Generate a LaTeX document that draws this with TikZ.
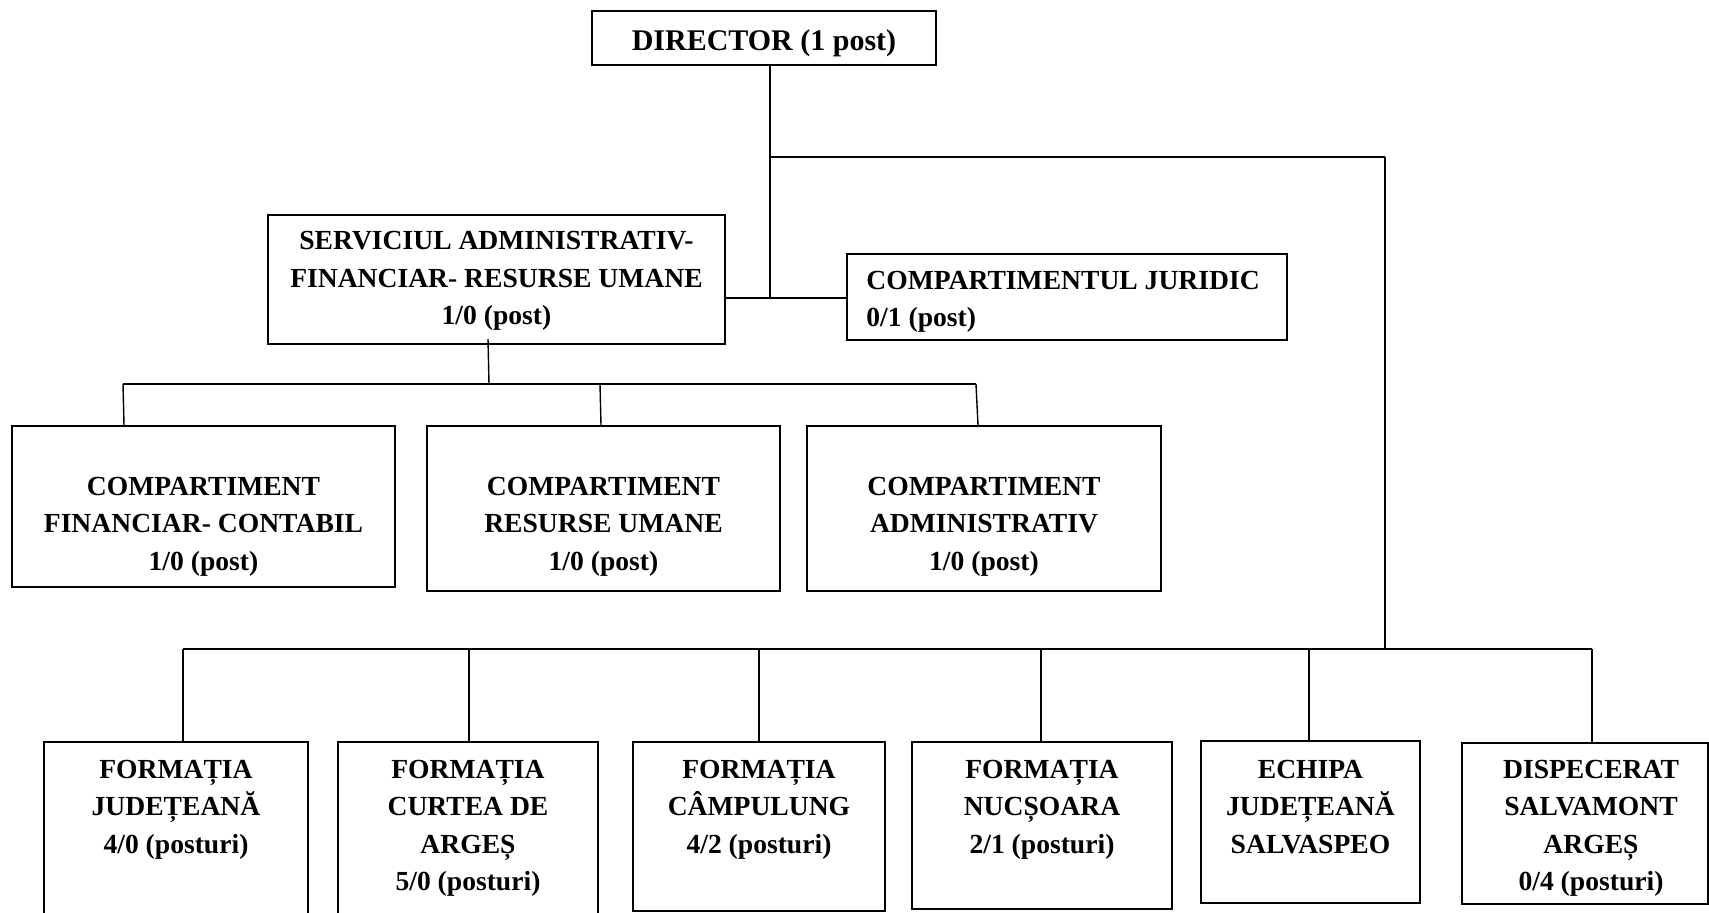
\documentclass[tikz,border=0pt]{standalone}
\usepackage{fontspec}
\setmainfont{Liberation Serif}
\usetikzlibrary{fit}
\newcommand{\fl}{\rule{0pt}{12.5pt}}
\tikzset{
  box/.style={draw, line width=1pt, inner sep=0pt},
  lbl/.style={font=\fontsize{13.8}{18.75}\selectfont\bfseries, align=center, inner sep=0pt, anchor=north},
  conn/.style={line width=0.7pt},
  bus/.style={line width=1pt},
}
\begin{document}
\begin{tikzpicture}[x=0.5pt,y=-0.5pt]
\clip (0,0) rectangle (1709,913);
\fill[white] (0,0) rectangle (1709,913);
% boxes
\node[box, fit={(592,11) (936,65)}] (d) {};
\node[box, fit={(268,215) (725,344)}] (s) {};
\node[box, fit={(847,254) (1287,340)}] (j) {};
\node[box, fit={(12,426) (395,587)}] (c1) {};
\node[box, fit={(427,426) (780,591)}] (c2) {};
\node[box, fit={(807,426) (1161,591)}] (c3) {};
\node[box, fit={(44,742) (308,940)}] (b1) {};
\node[box, fit={(338,742) (598,940)}] (b2) {};
\node[box, fit={(633,742) (885,911)}] (b3) {};
\node[box, fit={(912,742) (1172,909)}] (b4) {};
\node[box, fit={(1201,741) (1420,903)}] (b5) {};
\node[box, fit={(1462,743) (1707.5,904)}] (b6) {};
% texts
\node[font=\fontsize{15}{18}\selectfont\bfseries, inner sep=0pt, anchor=base] (dt) at (764,51) {DIRECTOR (1 post)};
\node[lbl] (st) at (496.5,224.5) {\fl SERVICIUL ADMINISTRATIV-\\FINANCIAR- RESURSE UMANE\\1/0 (post)};
\node[lbl, anchor=north west, align=left] (jt) at (866,264) {\fl COMPARTIMENTUL JURIDIC\\0/1 (post)};
\node[lbl] (c1t) at (203.5,470) {\fl COMPARTIMENT\\FINANCIAR- CONTABIL\\1/0 (post)};
\node[lbl] (c2t) at (603.5,470) {\fl COMPARTIMENT\\RESURSE UMANE\\1/0 (post)};
\node[lbl] (c3t) at (984,470) {\fl COMPARTIMENT\\ADMINISTRATIV\\1/0 (post)};
\node[lbl] (b1t) at (176,753) {\fl FORMAȚIA\\JUDEȚEANĂ\\4/0 (posturi)};
\node[lbl] (b2t) at (468,753) {\fl FORMAȚIA\\CURTEA DE\\ARGEȘ\\5/0 (posturi)};
\node[lbl] (b3t) at (759,753) {\fl FORMAȚIA\\CÂMPULUNG\\4/2 (posturi)};
\node[lbl] (b4t) at (1042,753) {\fl FORMAȚIA\\NUCȘOARA\\2/1 (posturi)};
\node[lbl] (b5t) at (1310.5,753) {\fl ECHIPA\\JUDEȚEANĂ\\SALVASPEO};
\node[lbl] (b6t) at (1591,753) {\fl DISPECERAT\\SALVAMONT\\ARGEȘ\\0/4 (posturi)};
% connector points
\coordinate (j1) at (770,298);
\coordinate (j2) at (770,157);
\coordinate (j3) at (1385,157);
\coordinate (j4) at (1385,649);
\coordinate (k0) at (488,339);
\coordinate (k1) at (489,384);
\coordinate (m1) at (123,384);
\coordinate (m2) at (600,384);
\coordinate (m3) at (976,384);
\coordinate (t1) at (183,649);
\coordinate (t2) at (469,649);
\coordinate (t3) at (759,649);
\coordinate (t4) at (1041,649);
\coordinate (t5) at (1309,649);
\coordinate (t6) at (1592,649);
% connectors
\draw[conn] (d.south -| j1) -- (j1);
\draw[bus] (s.east |- j1) -- (j.west |- j1);
\draw[bus] (j2) -- (j3);
\draw[conn] (j3) -- (j4);
\draw[conn] (k0) -- (k1);
\draw[bus] (m1) -- (m3);
\draw[conn] (m1) -- ([xshift=0.5pt]m1 |- c1.north);
\draw[conn] (m2) -- ([xshift=0.5pt]m2 |- c2.north);
\draw[conn] (m3) -- ([xshift=1pt]m3 |- c3.north);
\draw[bus] (t1) -- (t6);
\draw[conn] (t1) -- (t1 |- b1.north);
\draw[conn] (t2) -- (t2 |- b2.north);
\draw[conn] (t3) -- (t3 |- b3.north);
\draw[conn] (t4) -- (t4 |- b4.north);
\draw[conn] (t5) -- (t5 |- b5.north);
\draw[conn] (t6) -- (t6 |- b6.north);
\end{tikzpicture}
\end{document}
